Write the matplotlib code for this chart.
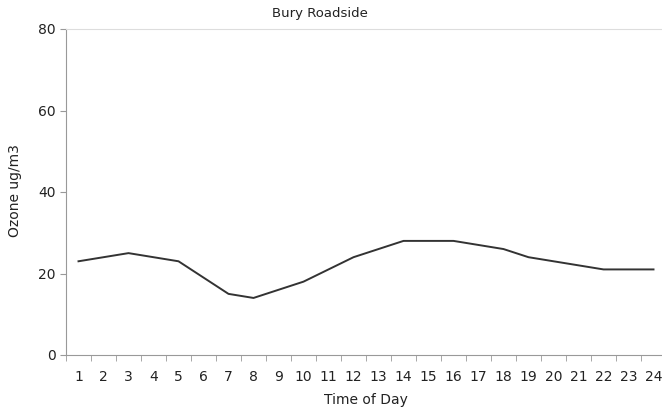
import numpy as np
import matplotlib.pyplot as plt

# hourly ozone at Bury Roadside
hours = list(range(1, 25))
ozone = [23, 24, 25, 24, 23, 19, 15, 14, 16, 18, 21, 24,
         26, 28, 28, 28, 27, 26, 24, 23, 22, 21, 21, 21]
yticks = [0, 20, 40, 60, 80]

W, H = 662, 409
fig = plt.figure(figsize=(W / 100, H / 100), dpi=100)
ax = fig.add_axes([66 / W, 1 - 355 / H, 600 / W, 326 / H])

ax.plot(hours, ozone, color='#333333', linewidth=1.4)

ax.set_xlim(0.5, 24.5)
ax.set_ylim(0, 80)
ax.set_yticks(yticks)
ax.set_xticks(hours)
ax.set_xticks(np.arange(0.5, 25, 1), minor=True)
ax.tick_params(axis='x', which='major', length=0, pad=11, labelsize=10, colors='#222222')
ax.tick_params(axis='x', which='minor', length=4, color='#999999')
ax.tick_params(axis='y', length=4, color='#999999', labelsize=10, labelcolor='#222222')

for side in ['left', 'bottom']:
    ax.spines[side].set_color('#999999')
ax.spines['top'].set_color('#dddddd')
ax.spines['right'].set_visible(False)

# title sits left of the plot centre in the original
fig.text(320 / W, 1 - 14 / H, 'Bury Roadside', fontsize=9.5, color='#222222',
         ha='center', va='center')

ax.set_xlabel('Time of Day', fontsize=10, color='#222222', va='center')
ax.xaxis.set_label_coords(0.5, (355 - 400) / 326)
ax.set_ylabel('Ozone ug/m3', fontsize=10, color='#222222', va='center')
ax.yaxis.set_label_coords((15 - 66) / 600, (355 - 191) / 326)

fig.savefig('out.png', dpi=100)
